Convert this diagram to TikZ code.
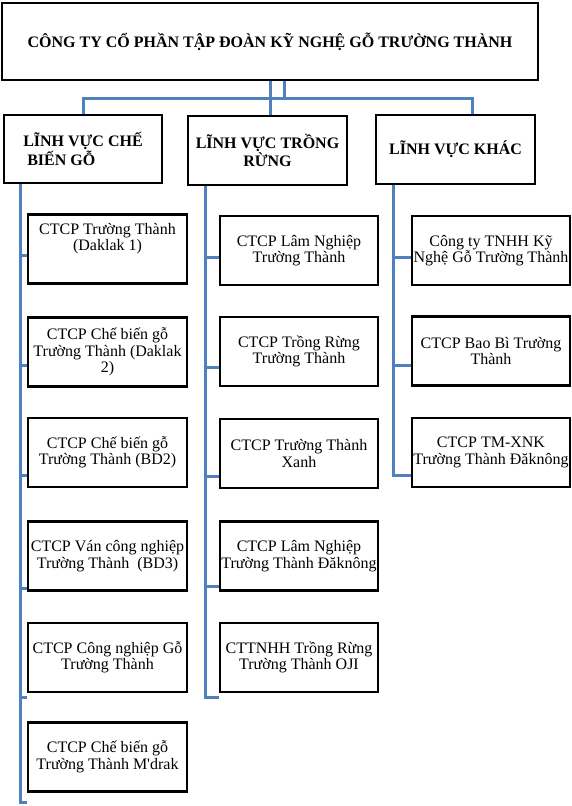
\documentclass[tikz,border=0pt]{standalone}
\usepackage{fontspec}
\setmainfont{Liberation Serif}[Ligatures=TeXOff]
\definecolor{connc}{RGB}{79,129,189}
\begin{document}
\begin{tikzpicture}[x=1pt,y=-1pt,
  box/.style={draw=black,line width=2.5pt,minimum width=159pt,minimum height=69pt,inner sep=0pt,align=center,font=\fontsize{16}{16.5}\selectfont},
  head/.style={box,font=\bfseries\fontsize{16}{16.5}\selectfont},
  conn/.style={draw=connc,line width=3pt,line join=miter}]
\useasboundingbox (0,0) rectangle (572,806);
% top
\node[head,minimum width=536pt,minimum height=77pt] (top) at (270,41.5) {CÔNG TY CỔ PHẦN TẬP ĐOÀN KỸ NGHỆ GỖ TRƯỜNG THÀNH};
% level 2
\node[head,minimum width=158pt,minimum height=68pt,align=left] (l2a) at (83,149) {LĨNH VỰC CHẾ\\\hspace{4pt}BIẾN GỖ};
\node[head] (l2b) at (267.5,150.5) {LĨNH VỰC TRỒNG\\RỪNG};
\node[head] (l2c) at (455.5,149.5) {LĨNH VỰC KHÁC};
% left column
\node[box,text depth=24pt] (a1) at (107.5,249) {CTCP Trường Thành\\(Daklak 1)};
\node[box] (a2) at (107.5,352) {CTCP Chế biến gỗ\\Trường Thành (Daklak\\2)};
\node[box] (a3) at (107.5,452.5) {CTCP Chế biến gỗ\\Trường Thành (BD2)};
\node[box] (a4) at (107.5,556) {CTCP Ván công nghiệp\\Trường Thành\ \ (BD3)};
\node[box] (a5) at (107.5,657.5) {CTCP Công nghiệp Gỗ\\Trường Thành};
\node[box] (a6) at (107.5,757) {CTCP Chế biến gỗ\\Trường Thành M'drak};
% middle column
\node[box,minimum width=158pt] (b1) at (299,250.5) {CTCP Lâm Nghiệp\\Trường Thành};
\node[box,minimum width=158pt] (b2) at (299,351.5) {CTCP Trồng Rừng\\Trường Thành};
\node[box,minimum width=158pt] (b3) at (299,453.5) {CTCP Trường Thành\\Xanh};
\node[box,minimum width=158pt] (b4) at (299,556) {CTCP Lâm Nghiệp\\Trường Thành Đăknông};
\node[box,minimum width=158pt] (b5) at (299,657.5) {CTTNHH Trồng Rừng\\Trường Thành OJI};
% right column
\node[box,minimum width=158pt] (c1) at (491,250.5) {Công ty TNHH Kỹ\\Nghệ Gỗ Trường Thành};
\node[box,minimum width=158pt] (c2) at (491,351) {CTCP Bao Bì Trường\\Thành};
\node[box,minimum width=158pt] (c3) at (491,452.5) {CTCP TM-XNK\\Trường Thành Đăknông};
% connectors top
\coordinate (j1) at (270,98);
\coordinate (j2) at (284,98);
\coordinate (busR) at (472,98);
\draw[conn] (top.south -| j1) -- (j1) -- (j1 |- l2b.north);
\draw[conn] (top.south -| j2) -- (j2);
\draw[conn] (l2a.north) |- (busR) -- (busR |- l2c.north);
% trunks
\coordinate (ta) at (20,0);
\coordinate (tb) at (205,0);
\coordinate (tc) at (393,0);
\draw[conn] (ta |- l2a.south) -- (ta |- 0,802) -- (a6.west |- 0,802);
\draw[conn] (ta |- 0,255) -- (a1.west |- 0,255);
\draw[conn] (ta |- 0,365) -- (a2.west |- 0,365);
\draw[conn] (ta |- 0,475) -- (a3.west |- 0,475);
\draw[conn] (ta |- 0,588) -- (a4.west |- 0,588);
\draw[conn] (ta |- 0,697) -- (a5.west |- 0,697);
\draw[conn] (tb |- l2b.south) -- (tb |- 0,697) -- (b5.west |- 0,697);
\draw[conn] (tb |- 0,257) -- (b1.west |- 0,257);
\draw[conn] (tb |- 0,367) -- (b2.west |- 0,367);
\draw[conn] (tb |- 0,476) -- (b3.west |- 0,476);
\draw[conn] (tb |- 0,586) -- (b4.west |- 0,586);
\draw[conn] (tc |- l2c.south) -- (tc |- 0,475) -- (c3.west |- 0,475);
\draw[conn] (tc |- 0,257) -- (c1.west |- 0,257);
\draw[conn] (tc |- 0,365) -- (c2.west |- 0,365);
\end{tikzpicture}
\end{document}
